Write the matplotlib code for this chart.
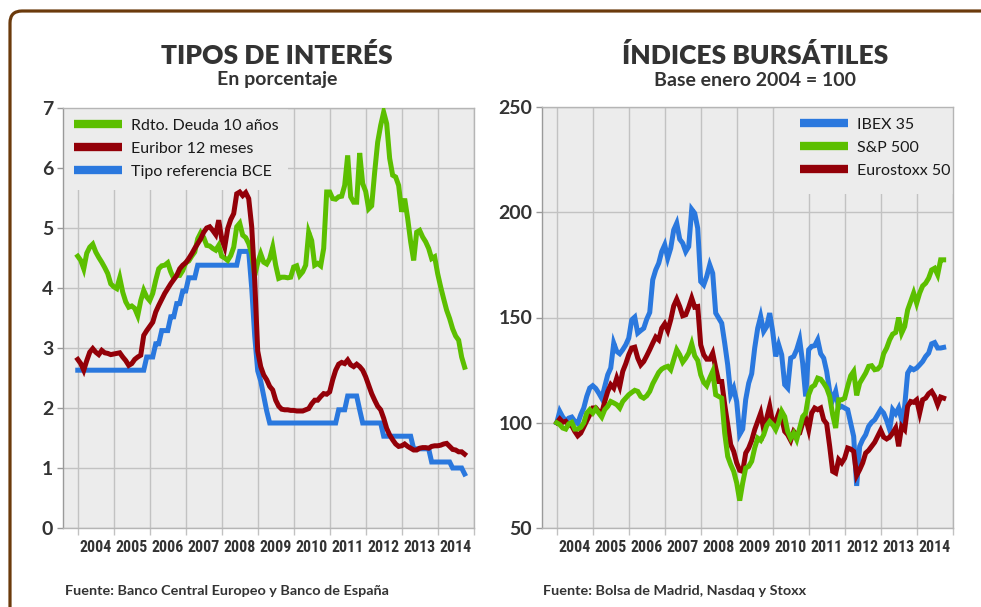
import matplotlib
matplotlib.use("Agg")
import matplotlib.pyplot as plt
import numpy as np
from matplotlib.patches import FancyBboxPatch, Rectangle
from matplotlib.transforms import IdentityTransform
from matplotlib import font_manager
from matplotlib.font_manager import FontProperties

# ---------------- DATA (monthly, Jan 2004 .. Oct 2014) ----------------
start_year = 2004
years = [str(y) for y in range(2004, 2015)]

rdto_deuda_10 = [4.53, 4.46, 4.32, 4.58, 4.68, 4.73, 4.60, 4.51, 4.43, 4.34, 4.24, 4.07,
                 4.02, 3.99, 4.17, 3.93, 3.77, 3.68, 3.70, 3.66, 3.54, 3.79, 3.96, 3.85,
                 3.79, 3.91, 4.13, 4.32, 4.37, 4.38, 4.42, 4.27, 4.16, 4.21, 4.21, 4.29,
                 4.42, 4.45, 4.53, 4.60, 4.82, 4.92, 4.84, 4.71, 4.70, 4.66, 4.63, 4.71,
                 4.53, 4.50, 4.46, 4.54, 4.68, 5.02, 5.08, 4.88, 4.84, 4.74, 4.57, 4.21,
                 4.42, 4.57, 4.43, 4.40, 4.49, 4.68, 4.38, 4.16, 4.18, 4.18, 4.17, 4.18,
                 4.35, 4.37, 4.21, 4.27, 4.38, 4.93, 4.79, 4.38, 4.41, 4.37, 4.66, 5.60,
                 5.60, 5.49, 5.48, 5.52, 5.53, 5.71, 6.21, 5.52, 5.43, 5.43, 6.25, 5.74,
                 5.61, 5.32, 5.37, 5.93, 6.43, 6.71, 6.93, 6.74, 6.16, 5.88, 5.85, 5.71,
                 5.27, 5.49, 5.16, 4.77, 4.46, 4.93, 4.96, 4.85, 4.77, 4.66, 4.49, 4.52,
                 4.24, 4.02, 3.82, 3.63, 3.49, 3.32, 3.20, 3.13, 2.85, 2.68]

euribor_12m = [2.81, 2.74, 2.63, 2.79, 2.93, 2.99, 2.93, 2.89, 2.96, 2.92, 2.91, 2.89,
               2.90, 2.91, 2.92, 2.85, 2.79, 2.71, 2.74, 2.81, 2.85, 2.88, 3.21, 3.29,
               3.36, 3.43, 3.60, 3.71, 3.81, 3.91, 3.99, 4.07, 4.14, 4.21, 4.32, 4.38,
               4.42, 4.49, 4.57, 4.66, 4.74, 4.82, 4.93, 5.00, 5.02, 4.96, 4.89, 5.13,
               4.82, 4.68, 4.99, 5.14, 5.24, 5.57, 5.60, 5.54, 5.59, 5.49, 5.02, 4.13,
               2.95, 2.69, 2.55, 2.47, 2.36, 2.30, 2.13, 2.03, 1.98, 1.97, 1.97, 1.96,
               1.96, 1.95, 1.95, 1.95, 1.97, 1.99, 2.07, 2.13, 2.13, 2.19, 2.24, 2.23,
               2.27, 2.47, 2.63, 2.73, 2.76, 2.74, 2.80, 2.72, 2.69, 2.73, 2.69, 2.63,
               2.52, 2.38, 2.24, 2.13, 2.03, 1.97, 1.83, 1.66, 1.55, 1.47, 1.40, 1.36,
               1.37, 1.40, 1.36, 1.33, 1.30, 1.30, 1.33, 1.34, 1.34, 1.33, 1.36, 1.37,
               1.37, 1.38, 1.40, 1.41, 1.36, 1.31, 1.30, 1.27, 1.27, 1.23]

tipo_bce = [2.63] * 23 + [2.85] * 3 + [3.07] * 2 + [3.29] * 3 + [3.52] * 2 + [3.74] * 2 + \
           [3.95] * 2 + [4.17] * 3 + [4.38] * 14 + [4.61] * 4 + \
           [4.00, 3.20, 2.62, 2.45, 2.20, 1.95] + [1.75] * 23 + [1.97] * 3 + [2.20] * 4 + \
           [1.97] + [1.75] * 7 + [1.53] * 10 + [1.32] * 6 + [1.10] * 7 + [1.00] * 4 + [0.90]

ibex35 = [100.0, 105.4, 102.7, 101.0, 102.2, 102.7, 100.7, 99.6, 103.8, 107.0, 112.5, 116.5,
          117.6, 116.3, 114.1, 111.6, 117.3, 122.8, 126.0, 137.8, 133.9, 132.8, 134.7, 137.0,
          140.2, 148.9, 150.2, 142.6, 143.8, 144.9, 149.2, 152.4, 167.9, 172.6, 175.8, 181.3,
          184.5, 178.2, 182.9, 191.6, 194.8, 187.2, 185.3, 181.3, 183.7, 201.4, 199.5, 192.4,
          167.1, 165.5, 169.5, 175.0, 171.0, 152.1, 149.7, 147.3, 137.8, 127.5, 113.3, 116.5,
          110.0, 94.5, 97.0, 111.0, 118.8, 123.3, 135.5, 144.9, 150.5, 143.4, 145.7, 152.1,
          143.4, 131.5, 137.0, 132.3, 118.1, 116.5, 130.7, 131.5, 134.7, 139.4, 128.3, 112.5,
          134.7, 136.3, 136.6, 139.4, 132.8, 130.7, 124.4, 114.9, 110.9, 114.9, 107.0, 107.8,
          107.0, 106.2, 99.9, 93.5, 70.0, 88.8, 92.0, 94.3, 98.3, 100.2, 101.4, 103.8,
          106.2, 104.6, 101.1, 96.7, 106.2, 104.3, 107.0, 101.4, 107.8, 123.6, 126.0, 125.2,
          126.0, 127.5, 129.1, 131.5, 133.1, 137.5, 138.1, 135.5, 135.5, 135.8]

sp500 = [100.0, 99.1, 97.5, 97.0, 99.5, 100.2, 97.0, 97.0, 97.8, 99.9, 104.6, 106.2,
         104.6, 106.7, 104.6, 102.7, 106.2, 107.8, 110.1, 109.4, 108.6, 107.0, 110.1, 111.7,
         113.3, 114.4, 115.4, 114.9, 112.5, 111.7, 112.8, 114.9, 118.5, 121.2, 123.9, 125.5,
         126.3, 126.8, 125.2, 129.9, 134.7, 132.3, 128.8, 130.7, 133.1, 137.5, 131.8, 129.6,
         122.8, 119.2, 117.6, 121.2, 124.4, 113.3, 112.5, 111.7, 95.1, 84.0, 80.1, 76.9,
         71.4, 63.0, 71.4, 78.5, 79.3, 81.7, 88.0, 92.7, 91.6, 94.3, 98.6, 100.6,
         99.1, 96.7, 100.2, 105.4, 102.9, 95.9, 92.7, 95.1, 92.0, 97.5, 102.9, 104.6,
         113.3, 116.9, 117.9, 121.2, 120.7, 118.8, 116.5, 112.5, 103.8, 97.5, 110.9, 110.9,
         111.7, 117.3, 122.3, 124.4, 113.0, 118.8, 121.2, 123.6, 126.8, 127.1, 125.2, 125.5,
         127.1, 132.8, 135.5, 139.4, 142.1, 142.9, 150.0, 142.6, 145.7, 153.6, 157.6, 161.6,
         156.8, 161.6, 165.0, 166.3, 168.7, 172.6, 173.4, 170.3, 177.4, 177.4]

eurostoxx50 = [100.0, 101.8, 100.2, 100.7, 98.9, 98.6, 95.9, 93.8, 95.1, 98.0, 101.0, 103.8,
               107.0, 107.1, 105.4, 104.6, 110.1, 114.9, 118.1, 116.5, 121.2, 117.3, 124.4, 128.0,
               132.3, 135.5, 135.9, 130.7, 127.5, 129.1, 131.8, 134.7, 137.8, 140.7, 139.4, 144.9,
               147.0, 143.8, 148.9, 155.5, 158.7, 155.2, 150.8, 151.3, 154.9, 159.2, 154.9, 155.2,
               137.0, 132.3, 130.2, 130.2, 133.1, 126.0, 119.6, 119.6, 108.6, 99.1, 89.6, 86.4,
               80.9, 77.4, 76.9, 85.6, 88.0, 91.6, 96.7, 100.6, 104.6, 96.7, 102.2, 107.8,
               99.9, 100.6, 104.6, 102.2, 95.9, 94.3, 91.6, 95.9, 94.3, 95.1, 99.9, 102.2,
               96.7, 104.6, 107.0, 106.2, 107.0, 101.4, 99.5, 88.8, 76.9, 76.1, 82.5, 80.9,
               83.2, 88.0, 87.5, 86.4, 75.0, 77.7, 80.9, 85.6, 86.9, 88.8, 90.7, 93.5,
               96.4, 93.2, 92.3, 93.2, 95.1, 97.5, 88.8, 98.3, 96.7, 107.8, 110.1, 109.7,
               110.9, 104.6, 110.9, 111.7, 113.8, 114.9, 112.5, 108.6, 112.2, 111.7]

left_labels = ["Rdto. Deuda 10 años", "Euribor 12 meses", "Tipo referencia BCE"]
right_labels = ["IBEX 35", "S&P 500", "Eurostoxx 50"]

# ---------------- STYLE ----------------
GREEN = "#5cbf00"
RED = "#930008"
BLUE = "#2a78de"
TXT = "#333333"
GRID = "#c2c2c2"
BG = "#ececec"
BROWN = "#6b3a0c"

avail = {f.name for f in font_manager.fontManager.ttflist}
FONT = "Lato" if "Lato" in avail else "DejaVu Sans"
plt.rcParams["font.family"] = [FONT, "DejaVu Sans"]


def find_condensed_bold():
    prefs = ["liberationsansnarrow-bold.ttf", "robotocondensed-bold", "opensans_condensed-bold",
             "opensanscondensed-bold", "notosans-condensedbold", "dejavusanscondensed-bold.ttf"]
    files = [f.fname for f in font_manager.fontManager.ttflist]
    low = {fn.lower().split("/")[-1]: fn for fn in files}
    for p in prefs:
        for k, fn in low.items():
            if k.startswith(p.split(".")[0]) and "italic" not in k and "oblique" not in k:
                return fn
    for k, fn in low.items():
        if ("narrow" in k or "condensed" in k) and "bold" in k and "italic" not in k \
                and "oblique" not in k and "semibold" not in k and "extrabold" not in k:
            return fn
    return None


cond_file = find_condensed_bold()
if cond_file:
    YEAR_FP = FontProperties(fname=cond_file)
else:
    YEAR_FP = FontProperties(family=FONT, weight="bold")

fig = plt.figure(figsize=(9.81, 6.07), dpi=100)
fig.patch.set_facecolor("white")

# measure the year font so that "2004" is ~32 px wide
renderer = fig.canvas.get_renderer()
_probe = fig.text(0, 0, "2004", fontproperties=YEAR_FP.copy())
_probe.set_fontsize(12)
_w = _probe.get_window_extent(renderer).width
_probe.remove()
YEAR_SIZE = min(15.0, 12 * 32.0 / max(_w, 1))

# frame
frame = FancyBboxPatch((10, -40), 1200, 607 - 11 + 40,
                       boxstyle="round,pad=0,rounding_size=12",
                       transform=IdentityTransform(), fill=False,
                       ec=BROWN, lw=2.3)
fig.patches.append(frame)


def t_of(n):
    return start_year + np.arange(n) / 12.0


def style_axes(ax, ylim, yticks):
    ax.set_facecolor(BG)
    ax.set_axisbelow(True)
    ax.set_xlim(2003.59, 2015.01)
    ax.set_ylim(*ylim)
    ax.set_yticks(yticks)
    ax.set_yticklabels([str(v) for v in yticks],
                       fontsize=14, fontweight="bold", color=TXT)
    ax.set_xticks(np.arange(2004, 2016))
    ax.set_xticklabels([])
    ax.set_xticks(np.arange(2004, 2015) + 0.5, minor=True)
    labs = ax.set_xticklabels(years, minor=True, color=TXT)
    for lb in labs:
        fp = YEAR_FP.copy()
        fp.set_size(YEAR_SIZE)
        lb.set_fontproperties(fp)
    ax.tick_params(axis="x", which="major", length=5, color=GRID, width=1)
    ax.tick_params(axis="x", which="minor", length=0, pad=9)
    ax.tick_params(axis="y", length=4, color="#999999", width=1, pad=3)
    ax.grid(True, which="major", color=GRID, lw=1)
    for s in ax.spines.values():
        s.set_color("#b5b5b5")
        s.set_linewidth(1)
    ax.spines["left"].set_color("#9a9a9a")


LW = 3.6
LEG_KW = dict(frameon=False, fontsize=11.5, handlelength=3.0, handletextpad=0.6,
              labelspacing=0.56, borderpad=0, borderaxespad=0, loc="upper left")

# ---- left chart ----
axL = fig.add_axes([63 / 981, 1 - 528 / 607, 411 / 981, 420 / 607])
style_axes(axL, (0, 7), list(range(0, 8)))
axL.add_patch(Rectangle((0, 0.805), 0.547, 0.195, transform=axL.transAxes,
                        facecolor=BG, edgecolor="none", zorder=1))
axL.plot(t_of(len(rdto_deuda_10)), rdto_deuda_10, color=GREEN, lw=LW,
         solid_joinstyle="miter", zorder=3, label=left_labels[0])
axL.plot(t_of(len(euribor_12m)), euribor_12m, color=RED, lw=LW,
         solid_joinstyle="miter", zorder=3, label=left_labels[1])
axL.plot(t_of(len(tipo_bce)), tipo_bce, color=BLUE, lw=LW,
         solid_joinstyle="miter", zorder=2.5, label=left_labels[2])
legL = axL.legend(bbox_to_anchor=(0.026, 0.975), **LEG_KW)
for h in legL.get_lines():
    h.set_linewidth(6)
    h.set_solid_capstyle("butt")
for tx in legL.get_texts():
    tx.set_color("#1a1a1a")

# ---- right chart ----
axR = fig.add_axes([542 / 981, 1 - 528 / 607, 411 / 981, 421 / 607])
style_axes(axR, (50, 250), [50, 100, 150, 200, 250])
axR.add_patch(Rectangle((0.567, 0.793), 0.433, 0.207, transform=axR.transAxes,
                        facecolor=BG, edgecolor="none", zorder=1))
axR.plot(t_of(len(ibex35)), ibex35, color=BLUE, lw=LW,
         solid_joinstyle="miter", zorder=2.5, label=right_labels[0])
axR.plot(t_of(len(sp500)), sp500, color=GREEN, lw=LW,
         solid_joinstyle="miter", zorder=3, label=right_labels[1])
axR.plot(t_of(len(eurostoxx50)), eurostoxx50, color=RED, lw=LW,
         solid_joinstyle="miter", zorder=2.8, label=right_labels[2])
legR = axR.legend(bbox_to_anchor=(0.627, 0.975), **LEG_KW)
for h in legR.get_lines():
    h.set_linewidth(6)
    h.set_solid_capstyle("butt")
for tx in legR.get_texts():
    tx.set_color("#1a1a1a")

# ---- titles ----
fig.text(277 / 981, 1 - 63.5 / 607, "TIPOS DE INTERÉS", ha="center", va="baseline",
         fontsize=19, fontweight="heavy", color=TXT)
fig.text(277 / 981, 1 - 85.5 / 607, "En porcentaje", ha="center", va="baseline",
         fontsize=14, fontweight="bold", color=TXT)
fig.text(755 / 981, 1 - 63.5 / 607, "ÍNDICES BURSÁTILES", ha="center", va="baseline",
         fontsize=19, fontweight="heavy", color=TXT)
fig.text(755 / 981, 1 - 85.5 / 607, "Base enero 2004 = 100", ha="center", va="baseline",
         fontsize=14, fontweight="bold", color=TXT)

# ---- sources ----
fig.text(65 / 981, 1 - 595 / 607, "Fuente: Banco Central Europeo y Banco de España",
         ha="left", va="baseline", fontsize=10.4, fontweight="bold", color=TXT)
fig.text(543 / 981, 1 - 595 / 607, "Fuente: Bolsa de Madrid, Nasdaq y Stoxx",
         ha="left", va="baseline", fontsize=10.4, fontweight="bold", color=TXT)

fig.savefig("out.png", dpi=100, facecolor="white")
